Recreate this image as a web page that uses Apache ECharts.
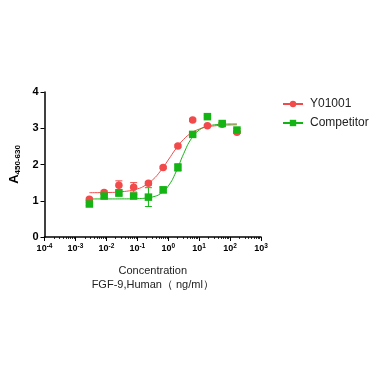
<!DOCTYPE html>
<html><head><meta charset="utf-8">
<script src="https://cdn.jsdelivr.net/npm/echarts@6/dist/echarts.min.js"></script>
<style>html,body{margin:0;padding:0;background:#fff}#c{width:379px;height:379px}</style>
</head><body><div id="c"></div>
<script>
// concentrations (ng/ml), 3-fold dilution
var conc = [0.00282, 0.00847, 0.0254, 0.0762, 0.229, 0.686, 2.06, 6.17, 18.5, 55.6, 166.7];
var redY = [1.04, 1.23, 1.43, 1.37, 1.48, 1.92, 2.51, 3.23, 3.07, 3.11, 2.89];
var redErr = [0.03, 0.04, 0.12, 0.13, 0.05, 0.03, 0.03, 0.03, 0.02, 0.02, 0.03];
var greenY = [0.91, 1.13, 1.21, 1.13, 1.10, 1.30, 1.92, 2.83, 3.32, 3.13, 2.95];
var greenErr = [0.04, 0.05, 0.05, 0.04, 0.26, 0.08, 0.10, 0.04, 0.03, 0.03, 0.04];
// fitted curves
var curveX = [0.00282, 0.01, 0.0316, 0.1, 0.178, 0.316, 0.562, 1, 1.78, 3.16, 5.62, 10, 17.8, 31.6, 56.2, 100, 166.7];
var redCurve = [1.222, 1.227, 1.249, 1.327, 1.421, 1.579, 1.820, 2.124, 2.436, 2.694, 2.871, 2.976, 3.035, 3.066, 3.083, 3.091, 3.095];
var greenCurve = [1.050, 1.050, 1.051, 1.058, 1.071, 1.106, 1.196, 1.404, 1.793, 2.299, 2.716, 2.950, 3.054, 3.095, 3.111, 3.117, 3.119];
var xTickExp = [-4, -3, -2, -1, 0, 1, 2, 3];
var yTicks = [0, 1, 2, 3, 4];
var names = ['Y01001', 'Competitor'];
var RED = '#f24a4a', GREEN = '#14b414';
var FONT = 'Liberation Sans';

function pairs(xs, ys) { return xs.map(function (x, i) { return [x, ys[i]]; }); }
function errData(xs, ys, es) { return xs.map(function (x, i) { return [x, ys[i] - es[i], ys[i] + es[i]]; }); }
function errSeries(data, color) {
  return {
    type: 'custom', silent: true, z: 3,
    data: data,
    renderItem: function (params, api) {
      var lo = api.coord([api.value(0), api.value(1)]);
      var hi = api.coord([api.value(0), api.value(2)]);
      var w = 3.5;
      var st = { stroke: color, lineWidth: 1 };
      return { type: 'group', children: [
        { type: 'line', shape: { x1: lo[0], y1: lo[1], x2: hi[0], y2: hi[1] }, style: st },
        { type: 'line', shape: { x1: lo[0] - w, y1: lo[1], x2: lo[0] + w, y2: lo[1] }, style: st },
        { type: 'line', shape: { x1: hi[0] - w, y1: hi[1], x2: hi[0] + w, y2: hi[1] }, style: st }
      ]};
    }
  };
}

var chart = echarts.init(document.getElementById('c'), null, { renderer: 'canvas' });
chart.setOption({
  animation: false,
  textStyle: { fontFamily: FONT },
  grid: { left: 44, right: 118, top: 92, bottom: 142 },
  legend: {
    left: 277, top: 93, orient: 'vertical', itemGap: 7, itemWidth: 20, itemHeight: 8,
    textStyle: { fontFamily: FONT, fontSize: 12, color: '#222', padding: [0, 0, 0, 2] },
    data: names
  },
  xAxis: {
    type: 'log', logBase: 10, min: 1e-4, max: 1e3,
    name: 'Concentration\nFGF-9,Human（ ng/ml）',
    nameLocation: 'middle', nameGap: 27,
    nameTextStyle: { fontFamily: FONT, fontSize: 11, color: '#222', lineHeight: 14 },
    axisLine: { lineStyle: { color: '#000', width: 1.5 } },
    axisTick: { show: true, length: 4, lineStyle: { color: '#000', width: 1 } },
    minorTick: { show: true, splitNumber: 9, length: 2, lineStyle: { color: '#000', width: 0.8 } },
    splitLine: { show: false },
    axisLabel: {
      margin: 6, color: '#000',
      formatter: function (v) {
        var e = Math.round(Math.log10(v));
        if (xTickExp.indexOf(e) < 0) return '';
        return '{b|10}{s|' + e + '}';
      },
      rich: {
        b: { fontFamily: FONT, fontSize: 9, fontWeight: 'bold', color: '#000' },
        s: { fontFamily: FONT, fontSize: 6.5, fontWeight: 'bold', color: '#000', verticalAlign: 'top', padding: [0, 0, 5, 0] }
      }
    }
  },
  yAxis: {
    type: 'value', min: yTicks[0], max: yTicks[yTicks.length - 1], interval: 1,
    name: '{a|A}{s|450-630}',
    nameLocation: 'middle', nameGap: 21, nameRotate: 90,
    nameTextStyle: {
      rich: {
        a: { fontFamily: FONT, fontSize: 13, fontWeight: 'bold', color: '#000' },
        s: { fontFamily: FONT, fontSize: 8, fontWeight: 'bold', color: '#000', verticalAlign: 'bottom', padding: [6, 0, 0, 0] }
      }
    },
    axisLine: { show: true, lineStyle: { color: '#000', width: 1.5 } },
    axisTick: { show: true, length: 4, lineStyle: { color: '#000', width: 1 } },
    splitLine: { show: false },
    axisLabel: { margin: 6, fontFamily: FONT, fontSize: 11, fontWeight: 'bold', color: '#000' }
  },
  series: [
    { name: names[0], type: 'line', data: pairs(curveX, redCurve), smooth: true, showSymbol: false,
      symbol: 'circle', symbolSize: 7, itemStyle: { color: RED }, lineStyle: { color: RED, width: 1 }, z: 2 },
    { name: names[1], type: 'line', data: pairs(curveX, greenCurve), smooth: true, showSymbol: false,
      symbol: 'rect', symbolSize: 7, itemStyle: { color: GREEN }, lineStyle: { color: GREEN, width: 1 }, z: 2 },
    errSeries(errData(conc, redY, redErr), RED),
    errSeries(errData(conc, greenY, greenErr), GREEN),
    { name: names[0], type: 'scatter', data: pairs(conc, redY), symbol: 'circle', symbolSize: 7.5,
      itemStyle: { color: RED, opacity: 1 }, z: 4 },
    { name: names[1], type: 'scatter', data: pairs(conc, greenY), symbol: 'rect', symbolSize: 7.5,
      itemStyle: { color: GREEN, opacity: 1 }, z: 4 }
  ]
});
</script></body></html>
